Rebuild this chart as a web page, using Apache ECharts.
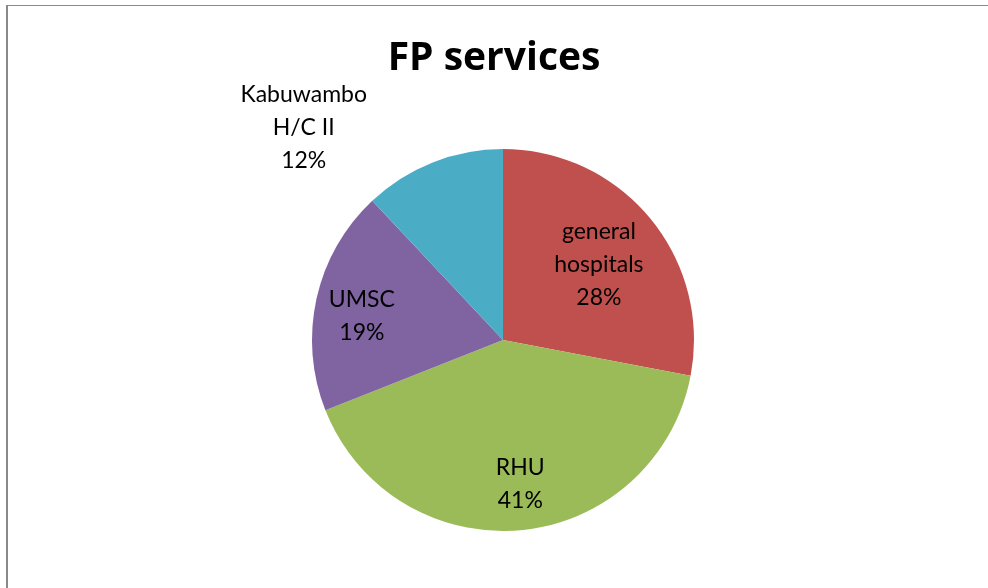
<!DOCTYPE html>
<html>
<head>
    <meta charset="utf-8">
    <title>FP services</title>
    <script src="https://cdn.jsdelivr.net/npm/echarts@6/dist/echarts.min.js"></script>
    <style>
        html, body { margin: 0; padding: 0; background: #fff; }
        #frame { position: absolute; left: 6px; top: 5px; width: 982px; height: 583px;
                 border-left: 2px solid #898989; border-top: 1px solid #898989; }
        #main { position: absolute; left: 0; top: 0; width: 988px; height: 588px; }
    </style>
</head>
<body>
<div id="frame"></div>
<div id="main"></div>
<script type="text/javascript">
    // data
    var categories = ['general\nhospitals', 'RHU', 'UMSC', 'Kabuwambo\nH/C II'];
    var values = [28, 41, 19, 12];
    var colors = ['#C0504D', '#9BBB59', '#8064A2', '#4BACC6'];
    // label nudges from the inside position
    var labelShift = [[20, -13], [8, 46], [-45, -2], [-163, -121]];

    var chart = echarts.init(document.getElementById('main'));

    var pieData = [];
    for (var i = 0; i < categories.length; i++) {
        pieData.push({name: categories[i], value: values[i], itemStyle: {color: colors[i]}});
    }

    var option = {
        backgroundColor: 'transparent',
        animation: false,
        title: {
            text: 'FP services',
            left: 'center',
            top: 34,
            textStyle: {fontFamily: 'Open Sans', fontSize: 39, fontWeight: 'bold', color: '#000'}
        },
        series: [{
            type: 'pie',
            center: [503, 340],
            radius: 191,
            startAngle: 90,
            clockwise: true,
            label: {
                show: true,
                position: 'inside',
                formatter: function (p) { return p.name + '\n' + Math.round(p.percent) + '%'; },
                fontFamily: 'Lato',
                fontSize: 23,
                lineHeight: 33,
                color: '#000'
            },
            labelLine: {show: false},
            labelLayout: function (p) {
                return {dx: labelShift[p.dataIndex][0], dy: labelShift[p.dataIndex][1]};
            },
            emphasis: {disabled: true},
            data: pieData
        }]
    };
    chart.setOption(option);
</script>
</body>
</html>
